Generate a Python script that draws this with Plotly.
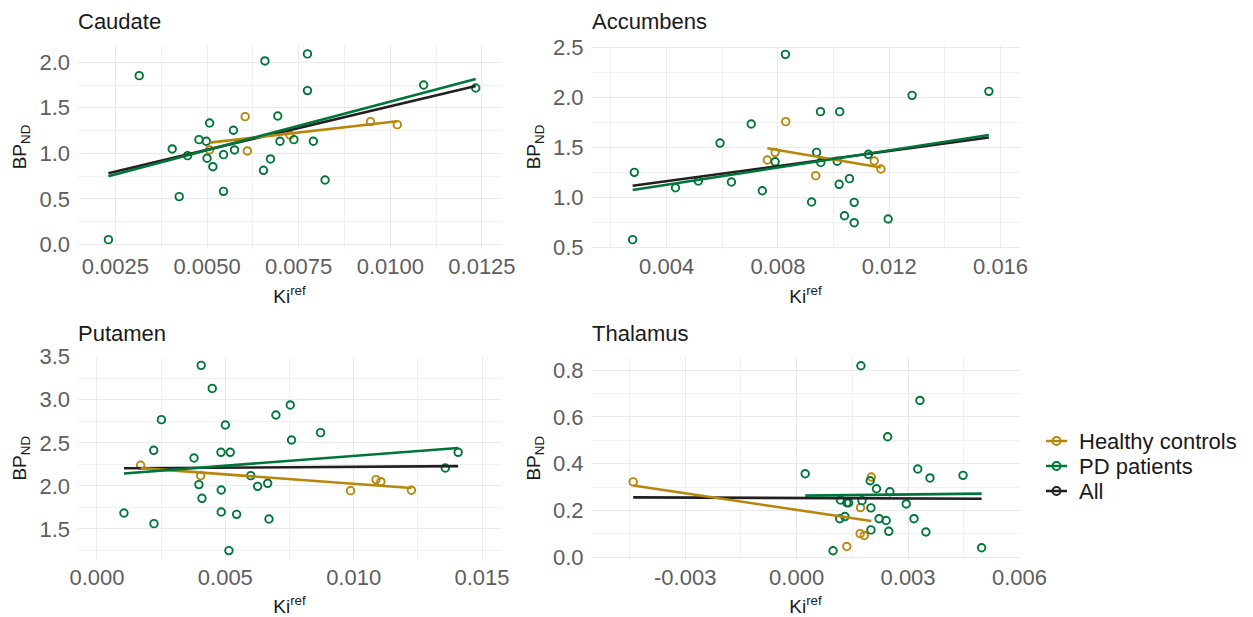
import numpy as np
import plotly.graph_objects as go

W, H = 1253, 617

# ---------------- data ----------------
groups = ["Healthy controls", "PD patients", "All"]
group_colors = ["#B8860B", "#00753A", "#231F20"]

# Caudate
caudate_pd_x = [0.00231, 0.00315, 0.00405, 0.00424, 0.00447, 0.00478, 0.00498, 0.00507, 0.00500,
                0.00516, 0.00545, 0.00545, 0.00572, 0.00575, 0.00658, 0.00654, 0.00673, 0.00693,
                0.00699, 0.00737, 0.00774, 0.00774, 0.00790, 0.00822, 0.01091, 0.01233]
caudate_pd_y = [0.051, 1.853, 1.048, 0.524, 0.974, 1.150, 1.132, 1.333, 0.945,
                0.853, 0.985, 0.582, 1.253, 1.037, 2.015, 0.813, 0.938, 1.410,
                1.132, 1.150, 2.092, 1.689, 1.132, 0.707, 1.751, 1.718]
caudate_hc_x = [0.00507, 0.00604, 0.00610, 0.00726, 0.00946, 0.01019]
caudate_hc_y = [1.037, 1.403, 1.026, 1.201, 1.348, 1.315]

# Accumbens
accumbens_pd_x = [0.00278, 0.00284, 0.00432, 0.00514, 0.00592, 0.00633, 0.00704, 0.00744, 0.00790,
                  0.00827, 0.00921, 0.00939, 0.00953, 0.00954, 0.01013, 0.01020, 0.01022, 0.01039,
                  0.01057, 0.01074, 0.01074, 0.01125, 0.01196, 0.01282, 0.01558]
accumbens_pd_y = [0.574, 1.249, 1.095, 1.162, 1.543, 1.152, 1.734, 1.065, 1.356,
                  2.433, 0.952, 1.450, 1.858, 1.349, 1.360, 1.129, 1.858, 0.814,
                  1.186, 0.948, 0.744, 1.430, 0.781, 2.022, 2.062]
accumbens_hc_x = [0.00762, 0.00790, 0.00828, 0.00936, 0.01146, 0.01170]
accumbens_hc_y = [1.373, 1.450, 1.758, 1.216, 1.363, 1.283]

# Putamen
putamen_pd_x = [0.00105, 0.00221, 0.00222, 0.00251, 0.00378, 0.00397, 0.00406, 0.00409, 0.00449,
                0.00483, 0.00484, 0.00484, 0.00500, 0.00519, 0.00514, 0.00544, 0.00599, 0.00626,
                0.00665, 0.00670, 0.00697, 0.00753, 0.00758, 0.00871, 0.01357, 0.01407]
putamen_pd_y = [1.686, 2.413, 1.562, 2.769, 2.324, 2.015, 3.399, 1.856, 3.132,
                2.390, 1.953, 1.697, 2.707, 2.390, 1.249, 1.670, 2.119, 1.995,
                2.030, 1.616, 2.823, 2.939, 2.533, 2.618, 2.208, 2.390]
putamen_hc_x = [0.00170, 0.00404, 0.00988, 0.01087, 0.01106, 0.01225]
putamen_hc_y = [2.239, 2.119, 1.945, 2.073, 2.049, 1.949]

# Thalamus
thalamus_pd_x = [0.00023, 0.00098, 0.00116, 0.00118, 0.00130, 0.00135, 0.00140, 0.00173, 0.00176,
                 0.00198, 0.00200, 0.00200, 0.00215, 0.00222, 0.00241, 0.00245, 0.00248, 0.00251,
                 0.00295, 0.00316, 0.00326, 0.00332, 0.00348, 0.00359, 0.00448, 0.00498]
thalamus_pd_y = [0.357, 0.028, 0.165, 0.245, 0.174, 0.233, 0.233, 0.818, 0.242,
                 0.327, 0.211, 0.117, 0.293, 0.165, 0.157, 0.515, 0.111, 0.280,
                 0.228, 0.165, 0.377, 0.670, 0.108, 0.339, 0.350, 0.041]
thalamus_hc_x = [-0.00440, 0.00135, 0.00172, 0.00171, 0.00182, 0.00201]
thalamus_hc_y = [0.322, 0.046, 0.212, 0.101, 0.093, 0.343]

# Tick labels
caudate_xticks = [0.0025, 0.0050, 0.0075, 0.0100, 0.0125]
caudate_xlabels = ["0.0025", "0.0050", "0.0075", "0.0100", "0.0125"]
caudate_yticks = [0.0, 0.5, 1.0, 1.5, 2.0]
caudate_ylabels = ["0.0", "0.5", "1.0", "1.5", "2.0"]
accumbens_xticks = [0.004, 0.008, 0.012, 0.016]
accumbens_xlabels = ["0.004", "0.008", "0.012", "0.016"]
accumbens_yticks = [0.5, 1.0, 1.5, 2.0, 2.5]
accumbens_ylabels = ["0.5", "1.0", "1.5", "2.0", "2.5"]
putamen_xticks = [0.000, 0.005, 0.010, 0.015]
putamen_xlabels = ["0.000", "0.005", "0.010", "0.015"]
putamen_yticks = [1.5, 2.0, 2.5, 3.0, 3.5]
putamen_ylabels = ["1.5", "2.0", "2.5", "3.0", "3.5"]
thalamus_xticks = [-0.003, 0.000, 0.003, 0.006]
thalamus_xlabels = ["-0.003", "0.000", "0.003", "0.006"]
thalamus_yticks = [0.0, 0.2, 0.4, 0.6, 0.8]
thalamus_ylabels = ["0.0", "0.2", "0.4", "0.6", "0.8"]

# ---------------- layout helpers ----------------
FONT = "Liberation Sans, Arial, Helvetica, sans-serif"
TICK_COLOR = "#5E5E5E"
TEXT_COLOR = "#1A1A1A"
GRID = "#EBEBEB"

panels = [
    dict(name="Caudate", pd=(caudate_pd_x, caudate_pd_y), hc=(caudate_hc_x, caudate_hc_y),
         px=(78, 501), py=(45, 249), xr=[0.00148, 0.01302], yr=[-0.0516, 2.190],
         xt=(caudate_xticks, caudate_xlabels), yt=(caudate_yticks, caudate_ylabels)),
    dict(name="Accumbens", pd=(accumbens_pd_x, accumbens_pd_y), hc=(accumbens_hc_x, accumbens_hc_y),
         px=(591.5, 1019.5), py=(45, 249), xr=[0.001302, 0.01668], yr=[0.480, 2.527],
         xt=(accumbens_xticks, accumbens_xlabels), yt=(accumbens_yticks, accumbens_ylabels)),
    dict(name="Putamen", pd=(putamen_pd_x, putamen_pd_y), hc=(putamen_hc_x, putamen_hc_y),
         px=(78, 501), py=(356.5, 560), xr=[-0.00074, 0.01574], yr=[1.140, 3.502],
         xt=(putamen_xticks, putamen_xlabels), yt=(putamen_yticks, putamen_ylabels)),
    dict(name="Thalamus", pd=(thalamus_pd_x, thalamus_pd_y), hc=(thalamus_hc_x, thalamus_hc_y),
         px=(591.5, 1019.5), py=(356.5, 560), xr=[-0.005523, 0.006], yr=[-0.0115, 0.8577],
         xt=(thalamus_xticks, thalamus_xlabels), yt=(thalamus_yticks, thalamus_ylabels)),
]


def minor_vals(ticks):
    step = ticks[1] - ticks[0]
    return [t - step / 2 for t in ticks] + [ticks[-1] + step / 2]


def fit_line(x, y):
    x = np.asarray(x, float)
    y = np.asarray(y, float)
    b, a = np.polyfit(x, y, 1)
    xs = np.array([x.min(), x.max()])
    return xs, a + b * xs


fig = go.Figure()
layout = dict(
    template="none",
    width=W, height=H, margin=dict(l=0, r=0, t=0, b=0, autoexpand=False),
    paper_bgcolor="white", plot_bgcolor="white",
    font=dict(family=FONT, color=TEXT_COLOR), showlegend=False,
)
annotations = []
shapes = []

for i, p in enumerate(panels, start=1):
    xa = "x" if i == 1 else f"x{i}"
    ya = "y" if i == 1 else f"y{i}"
    hx, hy = p["hc"]
    gx, gy = p["pd"]
    # points
    for (xx, yy), col in [((hx, hy), group_colors[0]), ((gx, gy), group_colors[1])]:
        fig.add_trace(go.Scatter(x=xx, y=yy, mode="markers", xaxis=xa, yaxis=ya,
                                 marker=dict(symbol="circle-open", size=7.5, color=col,
                                             line=dict(width=1.9, color=col)),
                                 showlegend=False, hoverinfo="x+y"))
    # regression lines: All, then healthy, then PD
    allx = list(hx) + list(gx)
    ally = list(hy) + list(gy)
    for (xx, yy), col in [((allx, ally), group_colors[2]), ((hx, hy), group_colors[0]),
                          ((gx, gy), group_colors[1])]:
        lx, ly = fit_line(xx, yy)
        fig.add_trace(go.Scatter(x=lx, y=ly, mode="lines", xaxis=xa, yaxis=ya,
                                 line=dict(color=col, width=2.6), showlegend=False,
                                 hoverinfo="skip"))

    x0, x1 = p["px"]
    y0, y1 = p["py"]
    xt, xl = p["xt"]
    yt, yl = p["yt"]
    key_x = "xaxis" if i == 1 else f"xaxis{i}"
    key_y = "yaxis" if i == 1 else f"yaxis{i}"
    layout[key_x] = dict(
        domain=[x0 / W, x1 / W], range=p["xr"], anchor=ya, automargin=False,
        tickvals=xt, ticktext=xl, ticks="", showline=False, zeroline=False,
        showgrid=True, gridcolor=GRID, gridwidth=1.1, ticklabelstandoff=2,
        minor=dict(tickvals=minor_vals(xt), showgrid=True, gridcolor="#F0F0F0", gridwidth=0.7, ticks=""),
        tickfont=dict(size=22, color=TICK_COLOR, family=FONT),
        title=dict(text="Ki<sup>ref</sup>", font=dict(size=19, color=TEXT_COLOR, family=FONT), standoff=11),
    )
    layout[key_y] = dict(
        domain=[1 - y1 / H, 1 - y0 / H], range=p["yr"], anchor=xa, automargin=False,
        tickvals=yt, ticktext=yl, ticks="", showline=False, zeroline=False,
        showgrid=True, gridcolor=GRID, gridwidth=1.1, ticklabelstandoff=7,
        minor=dict(tickvals=minor_vals(yt), showgrid=True, gridcolor="#F0F0F0", gridwidth=0.7, ticks=""),
        tickfont=dict(size=22, color=TICK_COLOR, family=FONT),
        title=dict(text="BP<sub>ND</sub>", font=dict(size=19, color=TEXT_COLOR, family=FONT), standoff=7),
    )
    annotations.append(dict(text=p["name"], xref="paper", yref="paper",
                            x=(x0 - 2) / W, y=1 - (y0 - 23) / H, xanchor="left", yanchor="middle",
                            showarrow=False, font=dict(size=22, color=TEXT_COLOR, family=FONT)))

# manual legend (key: line with open circle, like ggplot)
leg_y = [441, 466, 491]
for name, col, yy in zip(groups, group_colors, leg_y):
    shapes.append(dict(type="line", xref="paper", yref="paper",
                       x0=1046 / W, x1=1067 / W, y0=1 - yy / H, y1=1 - yy / H,
                       line=dict(color=col, width=2.5)))
    shapes.append(dict(type="circle", xref="paper", yref="paper", xsizemode="pixel", ysizemode="pixel",
                       xanchor=1056.5 / W, yanchor=1 - yy / H, x0=-4, x1=4, y0=-4, y1=4,
                       line=dict(color=col, width=1.9), fillcolor="rgba(0,0,0,0)"))
    annotations.append(dict(text=name, xref="paper", yref="paper", x=1077 / W, y=1 - yy / H,
                            xanchor="left", yanchor="middle", showarrow=False,
                            font=dict(size=22, color=TEXT_COLOR, family=FONT)))

layout["annotations"] = annotations
layout["shapes"] = shapes
fig.update_layout(**layout)
fig.write_html("out.html", config={"displayModeBar": False},
               post_script="document.body.style.margin='0';document.body.style.overflow='hidden';")
